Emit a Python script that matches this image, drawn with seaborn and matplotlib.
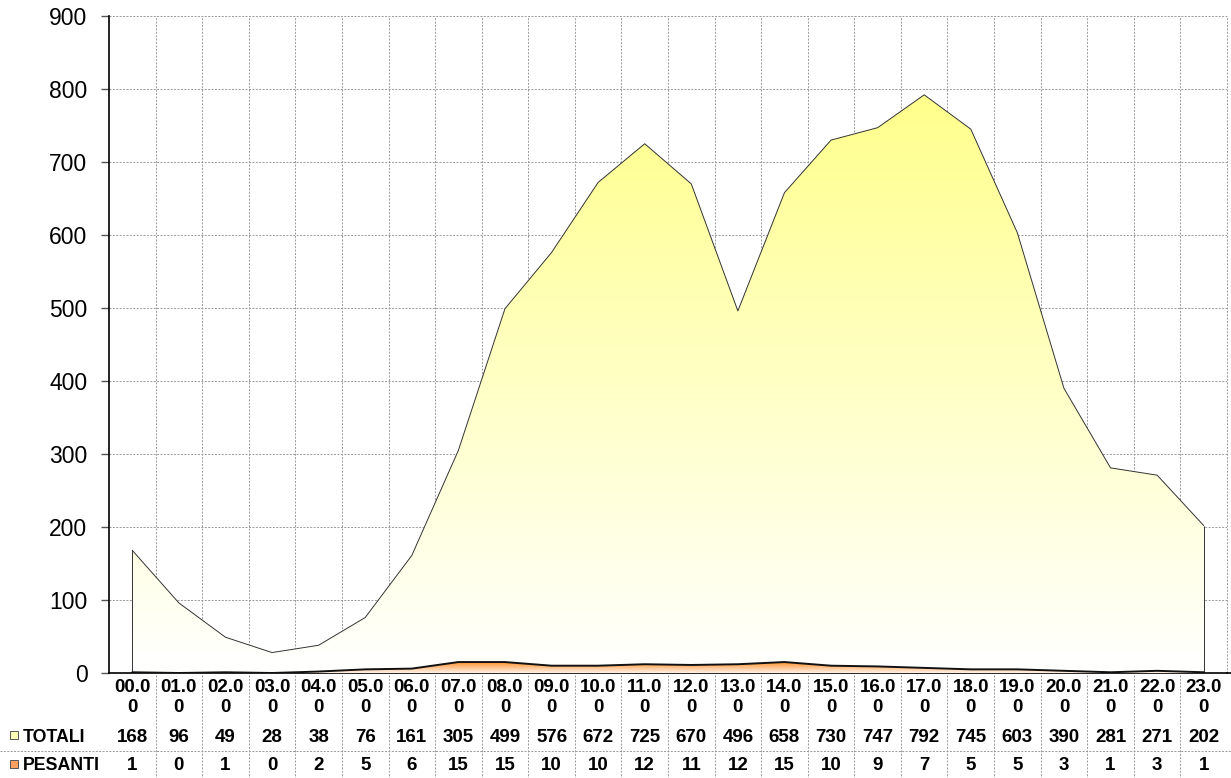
import numpy as np
import matplotlib
matplotlib.use("Agg")
import matplotlib.pyplot as plt
import seaborn as sns
from matplotlib.colors import LinearSegmentedColormap
from matplotlib.patches import Polygon, Rectangle

# Data
hours = ["00.00", "01.00", "02.00", "03.00", "04.00", "05.00", "06.00", "07.00",
         "08.00", "09.00", "10.00", "11.00", "12.00", "13.00", "14.00", "15.00",
         "16.00", "17.00", "18.00", "19.00", "20.00", "21.00", "22.00", "23.00"]
totali = [168, 96, 49, 28, 38, 76, 161, 305, 499, 576, 672, 725,
          670, 496, 658, 730, 747, 792, 745, 603, 390, 281, 271, 202]
pesanti = [1, 0, 1, 0, 2, 5, 6, 15, 15, 10, 10, 12,
           11, 12, 15, 10, 9, 7, 5, 5, 3, 1, 3, 1]
series = ["TOTALI", "PESANTI"]

sns.set_style("white")
plt.rcParams["font.family"] = ["Liberation Sans", "DejaVu Sans"]
plt.rcParams["text.color"] = "black"
plt.rcParams["ytick.labelcolor"] = "black"

W, H = 1231, 778
fig = plt.figure(figsize=(W / 100, H / 100), dpi=100)
left, right, top, bottom = 109, 1227, 16, 673
ax = fig.add_axes([left / W, 1 - bottom / H, (right - left) / W, (bottom - top) / H])

x = np.arange(len(hours))
GRID = dict(color="#999999", lw=0.7, ls=(0, (2, 1.5)))


def gradient_area(values, c_top, c_bottom, edge, lw, z):
    verts = [(x[0], 0)] + list(zip(x, values)) + [(x[-1], 0)]
    poly = Polygon(verts, closed=True, facecolor="none", edgecolor="none")
    ax.add_patch(poly)
    cmap = LinearSegmentedColormap.from_list("g", [c_bottom, c_top])
    grad = np.linspace(0, 1, 256).reshape(-1, 1)
    im = ax.imshow(grad, cmap=cmap, origin="lower", aspect="auto",
                   extent=(x[0], x[-1], 0, max(values)), zorder=z)
    im.set_clip_path(poly)
    sns.lineplot(x=x, y=values, ax=ax, color=edge, lw=lw, zorder=z + 0.1)
    ax.vlines([x[0], x[-1]], 0, [values[0], values[-1]], color=edge, lw=lw, zorder=z + 0.1)


gradient_area(totali, "#FFFF8C", "#FFFFFF", "#333333", 0.7, 2)
gradient_area(pesanti, "#FF9430", "#FFF2EA", "#111111", 1.4, 3)
ax.set_xlim(-0.5, len(hours) - 0.5)
ax.set_ylim(0, 900)

# grid
ax.set_yticks(np.arange(0, 901, 100))
ax.set_xticks(np.arange(0.5, len(hours) - 0.5, 1))
ax.set_xticklabels([])
ax.tick_params(axis="x", length=0)
ax.tick_params(axis="y", length=5.5, width=1, color="#555555", direction="out",
               labelsize=16.5, pad=10, left=True, labelcolor="black")
ax.grid(True, **GRID)
ax.set_axisbelow(True)
for s in ["top", "right"]:
    ax.spines[s].set_visible(False)
for s in ["left", "bottom"]:
    ax.spines[s].set_color("black")
    ax.spines[s].set_linewidth(1.2)
ax.plot([len(hours) - 0.5] * 2, [0, 900], clip_on=False, zorder=0, **GRID)
fig.add_artist(plt.Line2D([right / W, 1], [1 - bottom / H] * 2, color="black", lw=1.2))


# data table under the axes
def ay(py):
    return (bottom - py) / (bottom - top)


tr = ax.get_xaxis_transform()
cell = dict(transform=tr, ha="center", va="center", fontsize=13.5,
            fontweight="bold", color="black", clip_on=False)
for i, h in enumerate(hours):
    ax.text(i, ay(687), h[:4], **cell)
    ax.text(i, ay(708), h[4:], **cell)
    ax.text(i, ay(737), str(totali[i]), **cell)
    ax.text(i, ay(766), str(pesanti[i]), **cell)
for b in np.arange(0.5, len(hours) - 0.5, 1):
    ax.plot([b, b], [ay(675), ay(778)], transform=tr, clip_on=False, **GRID)
fig.add_artist(plt.Line2D([0, 1], [1 - 751 / H] * 2, **GRID))

# row labels with legend keys
for name, py, col in [(series[0], 737, "#FFFFB8"), (series[1], 766, "#FFA060")]:
    fig.add_artist(Rectangle((10 / W, 1 - (py + 2) / H), 8 / W, 8 / H,
                             facecolor=col, edgecolor="#555555", lw=0.7))
    fig.text(23 / W, 1 - py / H, name, ha="left", va="center",
             fontsize=12.8, fontweight="bold", color="black")

fig.savefig("out.png", dpi=100)
